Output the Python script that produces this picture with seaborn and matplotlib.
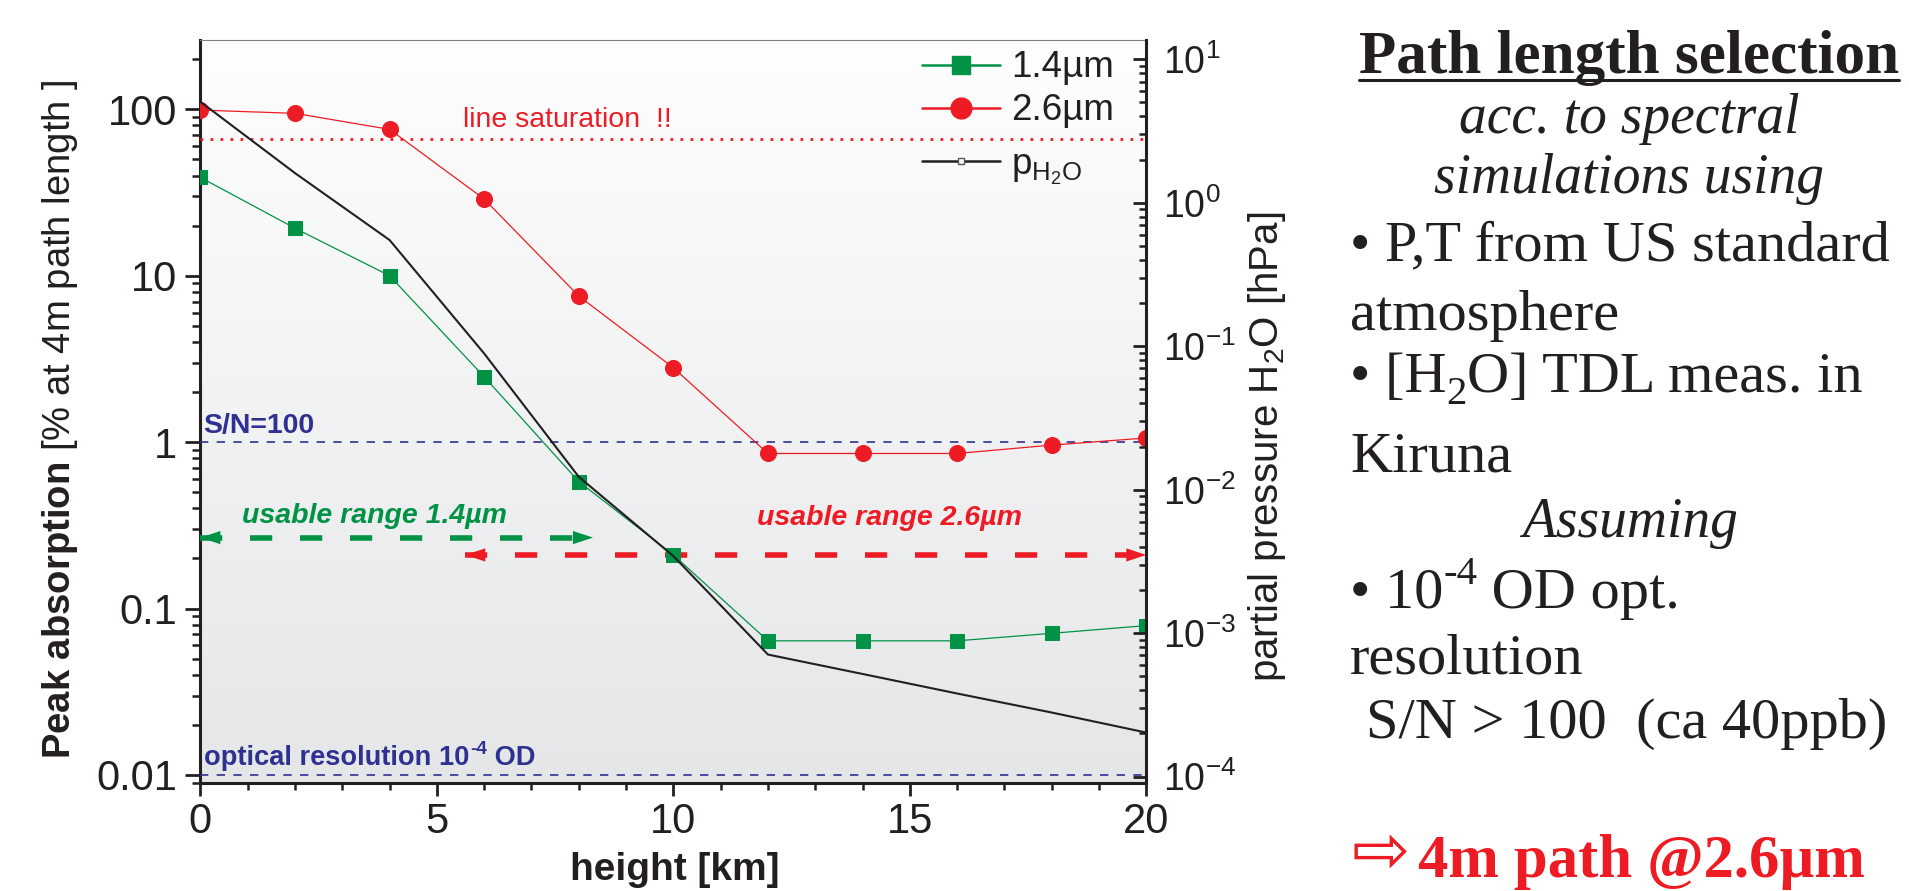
import numpy as np
import pandas as pd
import matplotlib
matplotlib.use("Agg")
import matplotlib.pyplot as plt
import seaborn as sns
from matplotlib.lines import Line2D
from matplotlib.ticker import (LogLocator, NullFormatter, FuncFormatter,
                               FixedLocator, MultipleLocator)
from matplotlib.colors import LinearSegmentedColormap

# ---------------------------------------------------------------- data
height_km = [0, 2, 4, 6, 8, 10, 12, 14, 16, 18, 20]
# peak absorption [% at 4 m path length]
absorption_14um = [39, 19.3, 10.0, 2.47, 0.58, 0.21, 0.064, 0.064, 0.064, 0.071, 0.079]
absorption_26um = [99, 94.6, 75.8, 28.9, 7.55, 2.8, 0.855, 0.855, 0.855, 0.96, 1.06]
# water vapour partial pressure [hPa]
p_h2o_height_km = [0, 2, 4, 6, 8, 10, 12, 14, 16, 18, 20]
p_h2o_hpa = [5.06, 1.61, 0.55, 0.089, 0.0123, 0.00345, 7.1e-4, 5.2e-4, 3.8e-4, 2.8e-4, 2.03e-4]

series_labels = ["1.4µm", "2.6µm", r"p$_{\mathrm{H_2O}}$"]

# reference levels [% absorption]
saturation_level = 66
sn100_level = 1
opt_resolution_level = 0.01

# usable height ranges [km] and the level they are drawn at
usable_14_km = (0, 8.3)
usable_14_level = 0.267
usable_26_km = (5.6, 20)
usable_26_level = 0.21

GREEN = "#009245"
RED = "#ED1C24"
BLUE = "#2E3192"
BLACK = "#231F20"
SANS = "Liberation Sans"
SERIF = ["Liberation Serif", "DejaVu Serif"]

sns.set_theme(style="white")
plt.rcParams.update({
    "font.family": [SANS, "DejaVu Sans"],
    "mathtext.fontset": "custom",
    "mathtext.rm": SANS,
    "mathtext.it": SANS + ":italic",
    "mathtext.bf": SANS + ":bold",
    "mathtext.sf": SANS,
    "mathtext.tt": "Liberation Serif",
    "axes.unicode_minus": False,
    "xtick.bottom": True,
    "ytick.left": True,
})

W, H = 1909, 891
fig = plt.figure(figsize=(W / 100, H / 100), dpi=100, facecolor="white")
renderer = fig.canvas.get_renderer()


def fx(px):
    return px / W


def fy(py):
    return 1 - py / H


def run_text(x, y, parts, size, **kw):
    """Write pieces one after another; each piece is (text, scale, rise in em)."""
    for s, scale, rise in parts:
        t = fig.text(fx(x), fy(y - rise * size * 100 / 72), s, size=size * scale,
                     va="baseline", ha="left", **kw)
        x = t.get_window_extent(renderer).x1
    return x


rect = [fx(200.4), fy(783), fx(1146.3) - fx(200.4), fy(40) - fy(783)]

# soft vertical shading behind the plot area
bg = fig.add_axes(rect)
cmap = LinearSegmentedColormap.from_list("shade", ["#e5e6e8", "#fefefe"])
bg.imshow(np.linspace(0, 1, 256).reshape(-1, 1), cmap=cmap, aspect="auto",
          origin="lower", extent=(0, 1, 0, 1))
bg.axis("off")

ax = fig.add_axes(rect)
ax.patch.set_visible(False)

df = pd.DataFrame({"height": height_km,
                   "a14": absorption_14um,
                   "a26": absorption_26um})
sns.lineplot(data=df, x="height", y="a14", ax=ax, color=GREEN, lw=0.9,
             marker="s", markersize=9.5, markeredgecolor=GREEN, zorder=5)
sns.lineplot(data=df, x="height", y="a26", ax=ax, color=RED, lw=0.9,
             marker="o", markersize=11.5, markeredgecolor=RED, zorder=5)

ax.set_xlim(0, 20)
ax.set_yscale("log")
ax.set_ylim(0.00895, 261)
ax.set_xlabel("")
ax.set_ylabel("")

# reference levels
ax.axhline(saturation_level, color=RED, lw=2, linestyle=(0, (1, 2.6)), zorder=3)
ax.axhline(sn100_level, color=BLUE, lw=1.2, linestyle=(0, (5, 5)), zorder=3)
ax.axhline(opt_resolution_level, color=BLUE, lw=1.2, linestyle=(0, (5, 5)), zorder=3)


def range_arrow(x0, x1, y, color):
    ax.plot([x0, x1], [y, y], color=color, lw=4, linestyle=(0, (4, 5)),
            dash_capstyle="butt", zorder=4)
    for tip, tail in ((x0, x0 + 0.5), (x1, x1 - 0.5)):
        ax.annotate("", xy=(tip, y), xytext=(tail, y),
                    arrowprops=dict(arrowstyle="-|>,head_length=1.0,head_width=0.33",
                                    mutation_scale=14.4, color=color, lw=0,
                                    shrinkA=0, shrinkB=0),
                    zorder=6, annotation_clip=False)


range_arrow(*usable_14_km, usable_14_level, GREEN)
range_arrow(*usable_26_km, usable_26_level, RED)

ax.text(5.55, 78, "line saturation  !!", color=RED, size=20.5, va="baseline")
ax.text(0.06, 1.14, "S/N=100", color=BLUE, weight="bold", size=20.5, va="baseline")
ax.text(0.89, 0.329, "usable range 1.4µm", color=GREEN, weight="bold",
        style="italic", size=20.5, va="baseline")
ax.text(11.77, 0.32, "usable range 2.6µm", color=RED, weight="bold",
        style="italic", size=20.5, va="baseline")
run_text(204.5, 765, [("optical resolution 10", 1, 0), ("-4", 0.7, 0.42), (" OD", 1, 0)],
         19.6, weight="bold", color=BLUE, family=SANS, zorder=6)

# axes styling
ax.xaxis.set_major_locator(FixedLocator([0, 5, 10, 15, 20]))
ax.xaxis.set_minor_locator(MultipleLocator(1))
ax.yaxis.set_major_locator(LogLocator(base=10, numticks=12))
ax.yaxis.set_minor_locator(LogLocator(base=10, subs=np.arange(2, 10), numticks=30))
ax.yaxis.set_minor_formatter(NullFormatter())
ax.yaxis.set_major_formatter(FuncFormatter(lambda v, p: f"{v:g}"))
ax.tick_params(axis="x", which="major", direction="out", length=9.4, width=2,
               labelsize=30, pad=4, color=BLACK, labelcolor=BLACK, bottom=True)
ax.tick_params(axis="x", which="minor", direction="out", length=5, width=1.8,
               color=BLACK, bottom=True)
ax.tick_params(axis="y", which="major", direction="out", length=10.8, width=2,
               labelsize=30, pad=6, color=BLACK, labelcolor=BLACK, left=True)
ax.tick_params(axis="y", which="minor", direction="out", length=5.5, width=1.8,
               color=BLACK, left=True)
for side in ("left", "bottom"):
    ax.spines[side].set_color(BLACK)
    ax.spines[side].set_linewidth(2.2)
ax.spines["top"].set_color("#808080")
ax.spines["top"].set_linewidth(0.8)
ax.spines["right"].set_visible(False)

# partial pressure on the right axis
ax2 = ax.twinx()
sns.lineplot(x=p_h2o_height_km, y=p_h2o_hpa, ax=ax2, color=BLACK, lw=1.5, zorder=4)
ax2.set_yscale("log")
ax2.set_ylim(10 ** -4.044, 10 ** 1.1345)
ax2.set_xlim(0, 20)
ax2.set_ylabel("")
ax2.yaxis.set_major_locator(LogLocator(base=10, numticks=12))
ax2.yaxis.set_minor_locator(LogLocator(base=10, subs=np.arange(2, 10), numticks=30))
ax2.yaxis.set_minor_formatter(NullFormatter())
ax2.tick_params(axis="y", which="major", direction="in", length=9.4, width=2,
                labelsize=27, pad=12, color=BLACK, labelcolor=BLACK, right=True)
ax2.tick_params(axis="y", which="minor", direction="in", length=5, width=1.8,
                color=BLACK, right=True)
for side in ("left", "bottom", "top"):
    ax2.spines[side].set_visible(False)
ax2.spines["right"].set_color(BLACK)
ax2.spines["right"].set_linewidth(2.2)

# key in the upper right corner of the plot
key_styles = [
    dict(color=GREEN, lw=1.8, marker="s", ms=12.5, mec=GREEN),
    dict(color=RED, lw=1.8, marker="o", ms=15, mec=RED),
    dict(color=BLACK, lw=1.8, marker="s", ms=4, mfc="white", mec="#555555", mew=1),
]
key_rows = [(65, 77), (108.3, 120), (161, 175)]  # line y, label baseline (px)
for (ly, by), style, lab in zip(key_rows, key_styles, series_labels):
    fig.add_artist(Line2D([fx(922), fx(1000)], [fy(ly), fy(ly)],
                          color=style["color"], lw=style["lw"]))
    fig.add_artist(Line2D([fx(961)], [fy(ly)], linestyle="none",
                          **{k: v for k, v in style.items() if k not in ("color", "lw")},
                          color=style["color"]))
    fig.text(fx(1011), fy(by), lab, size=26.5, va="baseline", color=BLACK)

# axis titles
fig.text(fx(675), fy(880), "height [km]", ha="center", va="baseline",
         weight="bold", family=SANS, size=28, color=BLACK)
fig.text(fx(60), fy(419), r"$\mathbf{Peak\ absorption}$ [% at 4m path length ]",
         rotation=90, ha="center", va="center", family=SANS, size=27.5, color=BLACK)
fig.text(fx(1267), fy(446.5), r"partial pressure H$_{2}$O [hPa]",
         rotation=90, ha="center", va="center", family=SANS, size=29, color=BLACK)


# side notes
def note(px, py, s, **kw):
    kw.setdefault("color", BLACK)
    kw.setdefault("family", SERIF)
    return fig.text(fx(px), fy(py), s, va="baseline", **kw)


title = note(1629, 73, "Path length selection", ha="center", weight="bold", size=44)
note(1629, 133, "acc. to spectral", ha="center", style="italic", size=40)
note(1629, 193, "simulations using", ha="center", style="italic", size=40)
note(1350, 260, "• P,T from US standard", size=42)
note(1350, 330, "atmosphere", size=42)
run_text(1350, 392, [("• [H", 1, 0), ("2", 0.7, -0.2), ("O] TDL meas. in", 1, 0)],
         42, family=SERIF, color=BLACK)
note(1350, 471.7, "Kiruna", size=42)
note(1630, 536.7, "Assuming", ha="center", style="italic", size=40)
run_text(1350, 608, [("• 10", 1, 0), ("-4", 0.7, 0.42), (" OD opt.", 1, 0)],
         42, family=SERIF, color=BLACK)
note(1350, 673, "resolution", size=42)
note(1366, 738, "S/N > 100  (ca 40ppb)", size=42)
note(1352, 874, "⇨", size=50, color=RED, family=["DejaVu Sans"])
note(1418, 876.7, "4m path @2.6µm", weight="bold", size=43.7, color=RED)

bb = title.get_window_extent(renderer)
fig.add_artist(Line2D([bb.x0 / W, bb.x1 / W], [fy(80), fy(80)], color=BLACK, lw=2.2))

fig.savefig("out.png", dpi=100, facecolor="white")
